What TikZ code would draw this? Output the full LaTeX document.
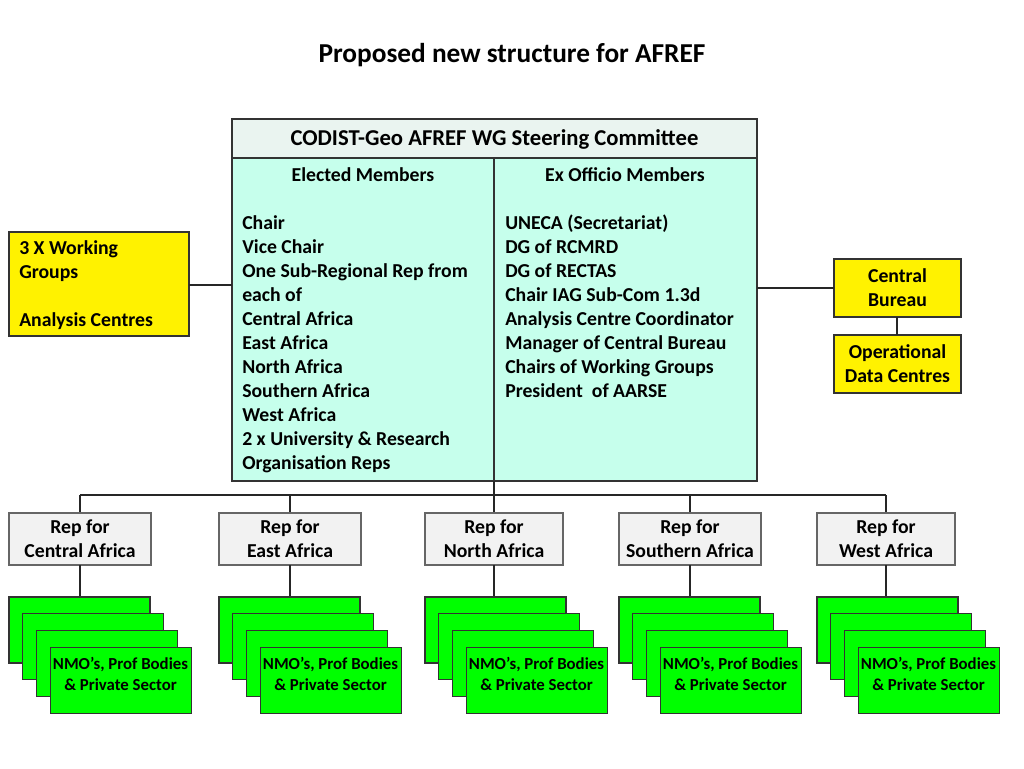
\documentclass[tikz,border=0pt]{standalone}
\usepackage{fontspec}
\setmainfont{Carlito}
\definecolor{mainfill}{RGB}{198,255,236}
\definecolor{hdrfill}{RGB}{234,244,240}
\begin{document}
\begin{tikzpicture}[x=0.75pt,y=-0.75pt,
  ln/.style={line width=1.2pt,black!85},
  ybox/.style={draw=black!80,line width=0.8pt,fill=yellow},
  rbox/.style={draw=black!60,line width=0.8pt,fill=black!5},
  gbox/.style={draw=black!80,line width=0.8pt,fill=green},
  txt/.style={font=\bfseries\fontsize{14.8}{18}\selectfont,inner sep=0pt},
  lst/.style={font=\bfseries\fontsize{14.8}{18}\selectfont,inner sep=0pt,anchor=north west,align=left}]
\useasboundingbox (0,0) rectangle (1024,768);
\node[font=\bfseries\fontsize{20.5}{24}\selectfont] (title) at (512,55) {Proposed new structure for AFREF};
% steering committee
\draw[draw=black!80,line width=0.8pt,fill=hdrfill] (232,119) rectangle (757,158);
\node[font=\bfseries\fontsize{17}{20}\selectfont] (hdr) at (494.5,139) {CODIST-Geo AFREF WG Steering Committee};
\draw[draw=black!80,line width=0.8pt,fill=mainfill] (232,158) rectangle (757,481);
\draw[line width=0.8pt,black!80] (494,158) -- (494,481);
\coordinate (mainL) at (232,285);
\coordinate (mainR) at (757,288);
\coordinate (mainB) at (494,481);
\node[txt] (em) at (363,175) {Elected Members};
\node[txt] (eo) at (625,175) {Ex Officio Members};
\node[lst] (el) at (242,215) {Chair\\Vice Chair\\One Sub-Regional Rep from\\each of\\Central Africa\\East Africa\\North Africa\\Southern Africa\\West Africa\\2 x University \& Research\\Organisation Reps};
\node[lst] (xl) at (505,215) {UNECA (Secretariat)\\DG of RCMRD\\DG of RECTAS\\Chair IAG Sub-Com 1.3d\\Analysis Centre Coordinator\\Manager of Central Bureau\\Chairs of Working Groups\\President \ of AARSE};
% left yellow
\draw[ybox] (9,232) rectangle (189,336);
\coordinate (wgR) at (189,285);
\node[lst] (wg) at (19,240) {3 X Working\\Groups\\[18pt]Analysis Centres};
\draw[ln] (wgR) -- (mainL);
% right yellow
\draw[ybox] (834,259) rectangle (961,317);
\node[txt,align=center] (cb) at (897.5,288) {Central\\Bureau};
\draw[ybox] (834,335) rectangle (961,393);
\node[txt,align=center] (odc) at (897.5,364) {Operational\\Data Centres};
\coordinate (cbL) at (834,288);
\draw[ln] (mainR) -- (cbL);
\draw[ln] (897,317) -- (897,335);
% bus
\draw[ln] (mainB) -- (494,513);
\draw[ln] (80,495) -- (886,495);
\foreach \l/\r/\nm [count=\i] in {9/151/Central Africa,219/361/East Africa,425/563/North Africa,619/761/Southern Africa,817/955/West Africa}{
  \pgfmathsetmacro{\c}{(\l+\r)/2}
  \draw[ln] (\c,495) -- (\c,513);
  \draw[rbox] (\l,513) rectangle (\r,565);
  \node[txt,align=center] (rep\i) at (\c,539) {Rep for\\\nm};
  \draw[ln] (\c,565) -- (\c,597);
  \foreach \k in {0,1,2,3}{
    \draw[gbox] ({\l+13.7*\k},{597+16.7*\k}) rectangle ({\l+141+13.7*\k},{663+16.7*\k});
  }
  \node[align=center,inner sep=0pt,font=\bfseries\fontsize{12.6}{16}\selectfont] (nmo\i) at ({\l+41+70.5},{674}) {NMO’s, Prof Bodies\\\& Private Sector};
}
\end{tikzpicture}
\end{document}
